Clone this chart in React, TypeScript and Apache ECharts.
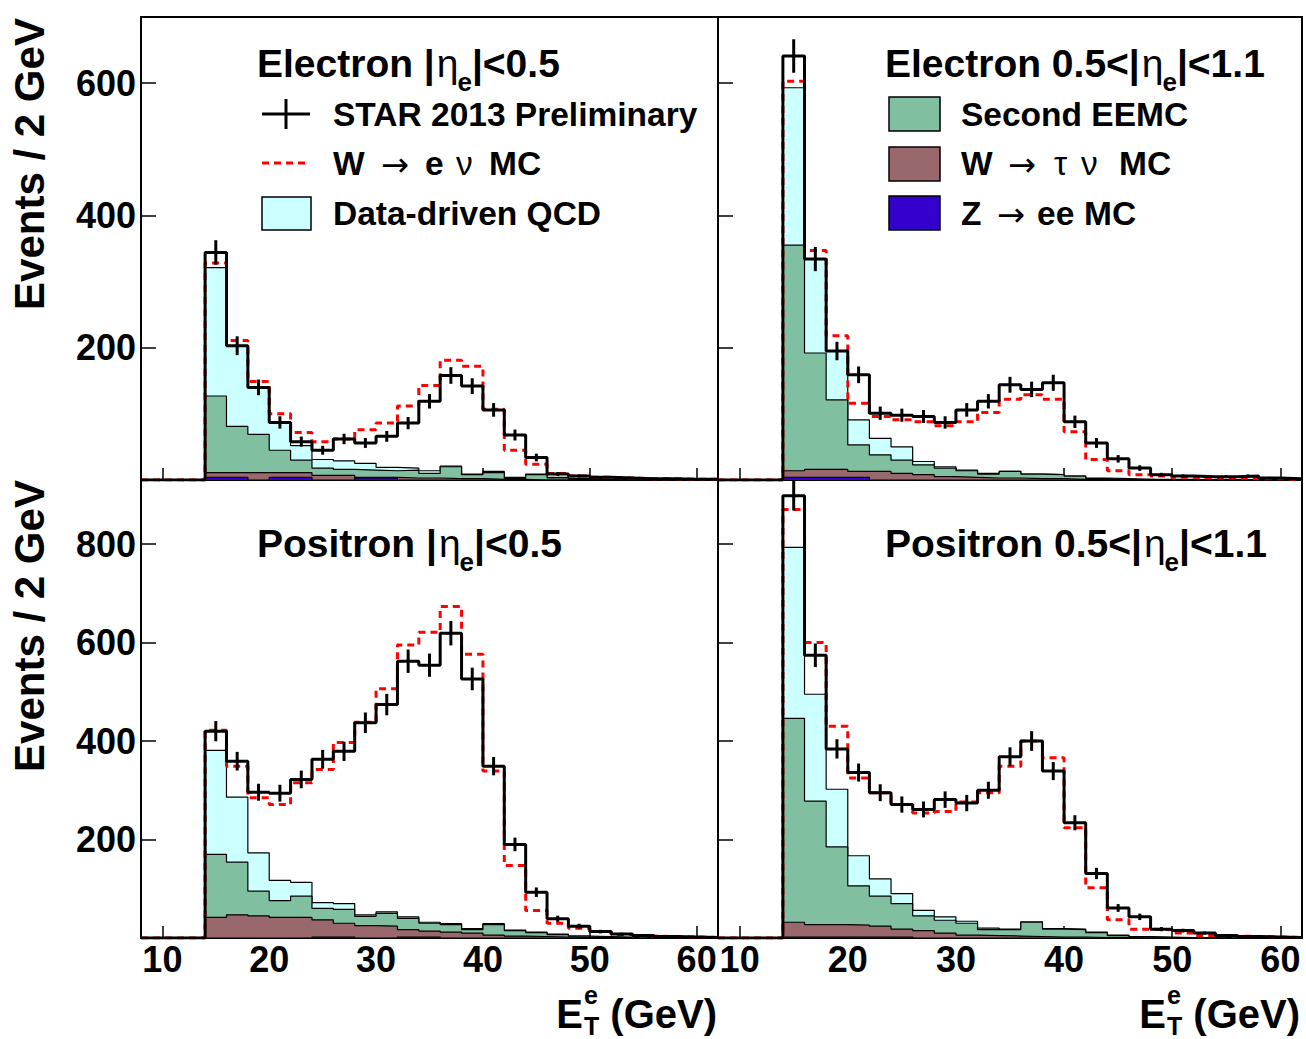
import React, { useEffect, useRef } from "react";
import * as echarts from "echarts";

const W = 1306;
const H = 1039;
const FONT = '"Liberation Sans", Arial, Helvetica, sans-serif';
const ARROW_FONT = '"DejaVu Sans", "Liberation Sans", sans-serif';

// Binning: 2 GeV bins, first filled bin starts at 14 GeV, axis 8..62
const X_MIN = 8;
const X_MAX = 62;
const BIN_START = 14;
const BIN_WIDTH = 2;

// ---------- Electron |eta|<0.5 (top left) ----------
const eCenData = [344, 203, 140, 87, 58, 45, 62, 56, 66, 86, 119, 158, 142, 106, 68, 34, 9, 6, 4, 3, 2, 2, 1, 1];
const eCenWenu = [7, 8, 9, 13, 20, 27, 33, 51, 67, 94, 129, 160, 163, 94, 41, 15, 6, 4, 3, 2, 1, 2, 1, 1];
const eCenQcd = [194, 122, 71, 42, 22, 13, 13, 10, 5, 3, 4, 1, 1, 2, 2, 1, 1, 1, 0, 1, 1, 0, 0, 0];
const eCenEemc = [116, 70, 58, 34, 19, 11, 9, 11, 10, 12, 7, 18, 6, 10, 1, 8, 3, 1, 1, 0, 0, 0, 0, 0];
const eCenTau = [7, 7, 11, 7, 7, 7, 7, 1, 1, 3, 3, 2, 2, 1, 1, 0, 0, 0, 0, 0, 0, 0, 0, 0];
const eCenZ = [4, 4, 0, 4, 4, 0, 0, 3, 3, 0, 0, 0, 0, 0, 0, 0, 0, 0, 0, 0, 0, 0, 0, 0];

// ---------- Electron 0.5<|eta|<1.1 (top right) ----------
const eFwdData = [641, 334, 195, 159, 101, 98, 96, 87, 106, 119, 144, 137, 147, 88, 56, 32, 18, 8, 6, 5, 5, 6, 3, 2];
const eFwdWenu = [10, 13, 23, 25, 33, 41, 60, 62, 73, 92, 109, 120, 114, 67, 28, 12, 7, 5, 3, 3, 3, 2, 2, 1];
const eFwdQcd = [238, 142, 74, 38, 25, 20, 5, 2, 1, 1, 0, 0, 0, 0, 1, 1, 0, 1, 1, 0, 0, 0, 0, 0];
const eFwdEemc = [341, 176, 105, 40, 25, 20, 15, 13, 10, 6, 10, 7, 6, 5, 1, 1, 1, 0, 0, 0, 0, 0, 0, 0];
const eFwdTau = [10, 12, 12, 9, 13, 10, 8, 5, 4, 3, 3, 2, 2, 1, 1, 0, 0, 0, 0, 0, 0, 0, 0, 0];
const eFwdZ = [4, 4, 4, 4, 0, 0, 0, 0, 0, 0, 0, 0, 0, 0, 0, 0, 0, 0, 0, 0, 0, 0, 0, 0];

// ---------- Positron |eta|<0.5 (bottom left) ----------
const pCenData = [420, 359, 296, 294, 322, 363, 379, 437, 474, 562, 554, 619, 526, 349, 190, 93, 39, 24, 13, 8, 5, 3, 2, 1];
const pCenWenu = [41, 63, 112, 154, 202, 270, 327, 391, 453, 552, 589, 644, 557, 310, 131, 44, 22, 16, 10, 5, 3, 2, 2, 1];
const pCenQcd = [211, 132, 78, 41, 28, 12, 12, 3, 3, 3, 2, 2, 2, 2, 1, 1, 1, 0, 1, 1, 0, 1, 0, 0];
const pCenEemc = [128, 107, 50, 34, 43, 23, 28, 19, 26, 23, 16, 15, 7, 21, 11, 8, 5, 3, 1, 1, 1, 0, 0, 0];
const pCenTau = [42, 47, 45, 42, 42, 35, 28, 25, 24, 15, 12, 12, 10, 6, 4, 3, 2, 1, 1, 0, 0, 0, 0, 0];
const pCenZ = [0, 0, 0, 0, 0, 2, 2, 0, 0, 2, 2, 0, 0, 0, 0, 0, 0, 0, 0, 0, 0, 0, 0, 0];

// ---------- Positron 0.5<|eta|<1.1 (bottom right) ----------
const pFwdData = [898, 574, 384, 336, 295, 271, 261, 281, 274, 300, 368, 400, 339, 234, 131, 61, 43, 18, 15, 10, 5, 3, 2, 1];
const pFwdWenu = [77, 105, 128, 158, 175, 181, 198, 214, 242, 275, 331, 367, 347, 206, 90, 31, 15, 15, 9, 4, 4, 3, 2, 1];
const pFwdQcd = [347, 217, 117, 61, 35, 20, 11, 7, 4, 3, 1, 1, 1, 1, 1, 1, 1, 1, 0, 1, 0, 0, 0, 0];
const pFwdEemc = [414, 251, 158, 80, 61, 52, 30, 26, 24, 12, 13, 29, 16, 15, 10, 4, 2, 1, 1, 0, 0, 0, 0, 0];
const pFwdTau = [30, 25, 25, 24, 22, 16, 15, 10, 6, 5, 4, 3, 2, 2, 1, 1, 0, 0, 0, 0, 0, 0, 0, 0];
const pFwdZ = [2, 2, 2, 2, 2, 2, 0, 0, 0, 0, 0, 0, 0, 0, 0, 0, 0, 0, 0, 0, 0, 0, 0, 0];

// axis ranges / ticks
const TOP_Y_MAX = 700;
const BOTTOM_Y_MAX = 930;
const Y_INTERVAL = 200;
const X_TICK_STEP = 10;

const COLORS = {
  qcd: "#ccffff",
  eemc: "#80bf9f",
  tau: "#98686c",
  z: "#3300cc",
  mc: "#ff0000",
  data: "#000000",
};

const PANELS = [
  { data: eCenData, wenu: eCenWenu, qcd: eCenQcd, eemc: eCenEemc, tau: eCenTau, z: eCenZ, yMax: TOP_Y_MAX },
  { data: eFwdData, wenu: eFwdWenu, qcd: eFwdQcd, eemc: eFwdEemc, tau: eFwdTau, z: eFwdZ, yMax: TOP_Y_MAX },
  { data: pCenData, wenu: pCenWenu, qcd: pCenQcd, eemc: pCenEemc, tau: pCenTau, z: pCenZ, yMax: BOTTOM_Y_MAX },
  { data: pFwdData, wenu: pFwdWenu, qcd: pFwdQcd, eemc: pFwdEemc, tau: pFwdTau, z: pFwdZ, yMax: BOTTOM_Y_MAX },
];

const GRIDS = [
  { left: 141, top: 17, width: 577, height: 463 },
  { left: 718, top: 17, width: 584, height: 463 },
  { left: 141, top: 480, width: 577, height: 458 },
  { left: 718, top: 480, width: 584, height: 458 },
];

function add(a: number[], b: number[]) {
  return a.map((v, i) => v + b[i]);
}

function stepPoints(vals: number[]) {
  const pts: number[][] = [];
  for (let x = X_MIN; x < BIN_START; x += BIN_WIDTH) pts.push([x, 0]);
  vals.forEach((v, i) => pts.push([BIN_START + i * BIN_WIDTH, v]));
  pts.push([X_MAX, vals[vals.length - 1]]);
  return pts;
}

let measureCtx: CanvasRenderingContext2D | null = null;
function measure(text: string, size: number, weight: string, family = FONT) {
  if (!measureCtx) measureCtx = document.createElement("canvas").getContext("2d");
  if (!measureCtx) return text.length * size * 0.55;
  measureCtx.font = `${weight} ${size}px ${family}`;
  return measureCtx.measureText(text).width;
}

type Part = { text: string; size: number; weight?: string; dy?: number; dx?: number; overlay?: boolean; gap?: number };

function textEl(x: number, y: number, text: string, size: number, weight: string, align = "left", rotation = 0, family = FONT) {
  return {
    type: "text",
    x,
    y,
    rotation,
    silent: true,
    style: {
      text,
      fontSize: size,
      fontWeight: weight,
      fontFamily: family,
      fill: "#000",
      align,
      verticalAlign: "middle",
      textAlign: align,
      textVerticalAlign: "middle",
    },
  };
}

function compose(x: number, y: number, parts: Part[], anchor: "left" | "right" = "left") {
  const widths = parts.map((p) => measure(p.text, p.size, p.weight || "bold"));
  let total = 0;
  parts.forEach((p, i) => {
    if (!p.overlay) total += widths[i] + (p.dx || 0) + (p.gap || 0);
  });
  let cur = anchor === "left" ? x : x - total;
  const els: any[] = [];
  parts.forEach((p, i) => {
    els.push(textEl(cur + (p.dx || 0), y + (p.dy || 0), p.text, p.size, p.weight || "bold"));
    if (!p.overlay) cur += widths[i] + (p.dx || 0) + (p.gap || 0);
  });
  return els;
}

function titleParts(prefix: string, suffix: string): Part[] {
  return [
    { text: prefix, size: 39 },
    { text: "η", size: 39, weight: "normal", dx: 2 },
    { text: "e", size: 26, dy: 19, dx: -1 },
    { text: suffix, size: 39, dx: 0 },
  ];
}

function buildOption() {
  const grid = GRIDS.map((g) => ({
    ...g,
    show: true,
    borderColor: "#000",
    borderWidth: 2,
    backgroundColor: "transparent",
    containLabel: false,
  }));

  const xAxis = GRIDS.map((_, i) => ({
    type: "value",
    gridIndex: i,
    min: X_MIN,
    max: X_MAX,
    minInterval: X_TICK_STEP,
    maxInterval: X_TICK_STEP,
    splitLine: { show: false },
    axisLine: { show: false },
    axisTick: { show: true, inside: true, length: 12, lineStyle: { color: "#000", width: 1.5 } },
    axisLabel: {
      show: i >= 2,
      inside: false,
      margin: 3,
      fontSize: 36,
      fontWeight: "bold",
      fontFamily: FONT,
      color: "#000",
      formatter: (v: number) => (v % X_TICK_STEP === 0 ? String(v) : ""),
    },
  }));

  const yAxis = GRIDS.map((_, i) => ({
    type: "value",
    gridIndex: i,
    min: 0,
    max: PANELS[i].yMax,
    interval: Y_INTERVAL,
    splitLine: { show: false },
    axisLine: { show: false },
    axisTick: { show: true, inside: true, length: 15, lineStyle: { color: "#000", width: 1.5 } },
    axisLabel: {
      show: i % 2 === 0,
      margin: 5,
      fontSize: 36,
      fontWeight: "bold",
      fontFamily: FONT,
      color: "#000",
      formatter: (v: number) => (v > 0 && v % Y_INTERVAL === 0 ? String(v) : ""),
    },
  }));

  const series: any[] = [];
  PANELS.forEach((p, i) => {
    const zTop = p.z;
    const tauTop = add(zTop, p.tau);
    const eemcTop = add(tauTop, p.eemc);
    const qcdTop = add(eemcTop, p.qcd);
    const total = add(qcdTop, p.wenu);

    const area = (vals: number[], color: string, z: number) => ({
      type: "line",
      xAxisIndex: i,
      yAxisIndex: i,
      data: stepPoints(vals),
      step: "end",
      symbol: "none",
      silent: true,
      z,
      lineStyle: { color: "#000", width: 1.2 },
      areaStyle: { color, opacity: 1 },
    });

    series.push(area(qcdTop, COLORS.qcd, 1));
    series.push(area(eemcTop, COLORS.eemc, 2));
    series.push(area(tauTop, COLORS.tau, 3));
    series.push(area(zTop, COLORS.z, 4));

    series.push({
      type: "line",
      xAxisIndex: i,
      yAxisIndex: i,
      data: stepPoints(total),
      step: "end",
      symbol: "none",
      silent: true,
      z: 5,
      lineStyle: { color: COLORS.mc, width: 3, type: [7, 5] },
    });

    series.push({
      type: "line",
      xAxisIndex: i,
      yAxisIndex: i,
      data: stepPoints(p.data),
      step: "end",
      symbol: "none",
      silent: true,
      z: 6,
      lineStyle: { color: COLORS.data, width: 3 },
    });

    series.push({
      type: "custom",
      xAxisIndex: i,
      yAxisIndex: i,
      silent: true,
      z: 7,
      data: p.data.map((v, k) => [BIN_START + BIN_WIDTH * k + BIN_WIDTH / 2, v, Math.sqrt(v)]),
      renderItem: (_params: any, api: any) => {
        const x = api.value(0);
        const y = api.value(1);
        const e = api.value(2);
        const p1 = api.coord([x, Math.max(0, y - e)]);
        const p2 = api.coord([x, y + e]);
        return {
          type: "line",
          shape: { x1: p1[0], y1: p1[1], x2: p2[0], y2: p2[1] },
          style: { stroke: "#000", lineWidth: 3 },
        };
      },
    });
  });

  const graphics: any[] = [];

  // Panel titles
  graphics.push(...compose(257, 63, titleParts("Electron |", "|<0.5")));
  graphics.push(...compose(885, 63, titleParts("Electron 0.5<|", "|<1.1")));
  graphics.push(...compose(257, 543, titleParts("Positron |", "|<0.5")));
  graphics.push(...compose(885, 543, titleParts("Positron 0.5<|", "|<1.1")));

  const LEG = 33.5;
  // Legend left
  graphics.push({ type: "line", silent: true, shape: { x1: 262, y1: 114, x2: 310, y2: 114 }, style: { stroke: "#000", lineWidth: 3 } });
  graphics.push({ type: "line", silent: true, shape: { x1: 286, y1: 99, x2: 286, y2: 129 }, style: { stroke: "#000", lineWidth: 3 } });
  graphics.push({ type: "line", silent: true, shape: { x1: 262, y1: 163, x2: 310, y2: 163 }, style: { stroke: COLORS.mc, lineWidth: 3, lineDash: [7, 5] } });
  graphics.push({ type: "rect", silent: true, shape: { x: 262, y: 197, width: 49, height: 33 }, style: { fill: COLORS.qcd, stroke: "#000", lineWidth: 1.5 } });
  graphics.push(textEl(333, 114, "STAR 2013 Preliminary", LEG, "bold"));
  graphics.push(textEl(333, 163, "W", LEG, "bold"));
  graphics.push(textEl(381, 164, "→", LEG, "normal", "left", 0, ARROW_FONT));
  graphics.push(textEl(425, 163, "e", LEG, "bold"));
  graphics.push(textEl(456, 163, "ν", LEG, "normal"));
  graphics.push(textEl(489, 163, "MC", LEG, "bold"));
  graphics.push(textEl(333, 213, "Data-driven QCD", LEG, "bold"));

  // Legend right
  graphics.push({ type: "rect", silent: true, shape: { x: 889, y: 97, width: 51, height: 34 }, style: { fill: COLORS.eemc, stroke: "#000", lineWidth: 1.5 } });
  graphics.push({ type: "rect", silent: true, shape: { x: 889, y: 147, width: 51, height: 34 }, style: { fill: COLORS.tau, stroke: "#000", lineWidth: 1.5 } });
  graphics.push({ type: "rect", silent: true, shape: { x: 889, y: 196, width: 51, height: 34 }, style: { fill: COLORS.z, stroke: "#000", lineWidth: 1.5 } });
  graphics.push(textEl(961, 114, "Second EEMC", LEG, "bold"));
  graphics.push(textEl(961, 163, "W", LEG, "bold"));
  graphics.push(textEl(1008, 164, "→", LEG, "normal", "left", 0, ARROW_FONT));
  graphics.push(textEl(1054, 163, "τ", LEG, "normal"));
  graphics.push(textEl(1081, 163, "ν", LEG, "normal"));
  graphics.push(textEl(1119, 163, "MC", LEG, "bold"));
  graphics.push(textEl(961, 213, "Z", LEG, "bold"));
  graphics.push(textEl(997, 214, "→", LEG, "normal", "left", 0, ARROW_FONT));
  graphics.push(textEl(1037, 213, "ee", LEG, "bold"));
  graphics.push(textEl(1084, 213, "MC", LEG, "bold"));

  // Y axis titles
  graphics.push(textEl(29, 164, "Events / 2 GeV", 42, "bold", "center", Math.PI / 2));
  graphics.push(textEl(29, 626, "Events / 2 GeV", 42, "bold", "center", Math.PI / 2));

  // X axis titles
  const xTitle = (): Part[] => [
    { text: "E", size: 40 },
    { text: "e", size: 25, dy: -19, overlay: true, dx: 1 },
    { text: "T", size: 25, dy: 12, dx: 1 },
    { text: " (GeV)", size: 40 },
  ];
  graphics.push(...compose(717, 1014, xTitle(), "right"));
  graphics.push(...compose(1300, 1014, xTitle(), "right"));

  return {
    animation: false,
    backgroundColor: "#ffffff",
    grid,
    xAxis,
    yAxis,
    series,
    graphic: { elements: graphics },
  };
}

export default function App() {
  const ref = useRef<HTMLDivElement>(null);
  useEffect(() => {
    if (!ref.current) return;
    const chart = echarts.init(ref.current, null, { renderer: "svg", width: W, height: H });
    chart.setOption(buildOption() as any);
    return () => {
      chart.dispose();
    };
  }, []);
  return (
    <div
      ref={ref}
      style={{ position: "absolute", left: 0, top: 0, width: W, height: H, background: "#fff" }}
    />
  );
}
